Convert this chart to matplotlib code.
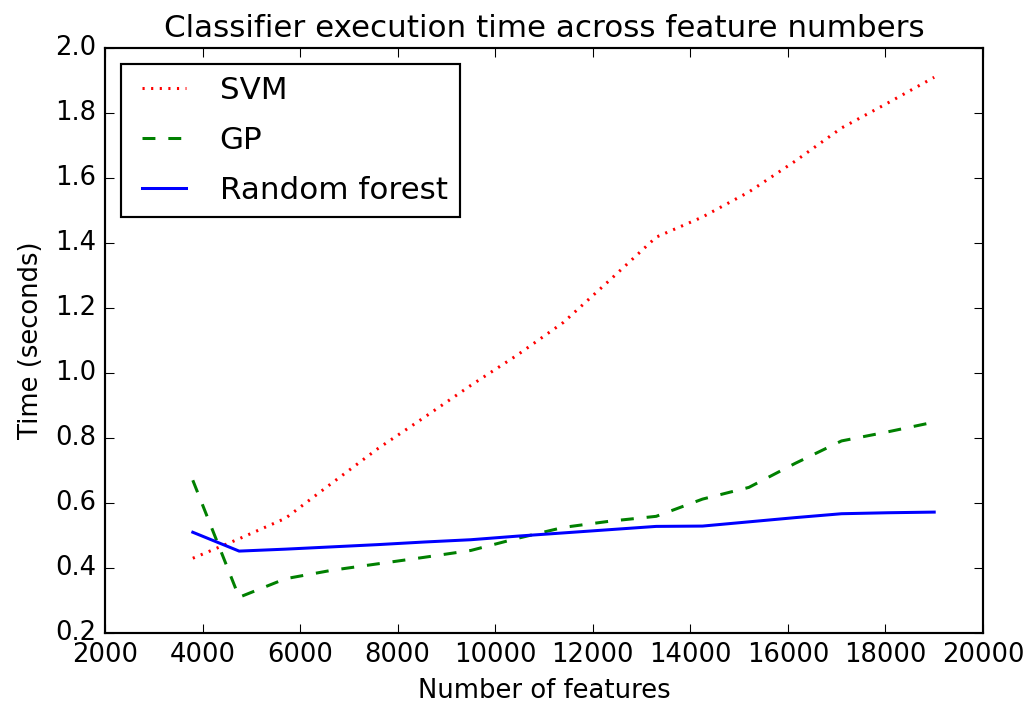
import numpy as np
import matplotlib
matplotlib.use('Agg')
import matplotlib.pyplot as plt

plt.style.use('classic')

# number of features used for each run
n_features = [3800, 4750, 5700, 6650, 7600, 8550, 9500, 10450, 11400,
              12350, 13300, 14250, 15200, 16150, 17100, 18050, 19000]

# execution time (seconds) per classifier
svm_time = [0.43, 0.49, 0.553, 0.661, 0.768, 0.864, 0.962, 1.055, 1.156,
            1.286, 1.418, 1.48, 1.557, 1.652, 1.754, 1.831, 1.91]
gp_time = [0.67, 0.31, 0.367, 0.393, 0.413, 0.433, 0.454, 0.491, 0.525,
           0.544, 0.559, 0.612, 0.648, 0.722, 0.791, 0.819, 0.849]
rf_time = [0.51, 0.452, 0.458, 0.465, 0.472, 0.480, 0.487, 0.498, 0.508,
           0.518, 0.528, 0.529, 0.542, 0.555, 0.567, 0.570, 0.572]

fig = plt.figure(figsize=(1032 / 155, 714 / 155), dpi=155, facecolor='white')
ax = fig.add_axes([105 / 1032, 1 - 633 / 714, 878 / 1032, 585 / 714])

ax.plot(n_features, svm_time, 'r:', lw=1.4, label='SVM')
ax.plot(n_features, gp_time, 'g--', lw=1.4, label='GP')
ax.plot(n_features, rf_time, 'b-', lw=1.4, label='Random forest')

ax.set_xlim(2000, 20000)
ax.set_ylim(0.2, 2.0)
ax.set_xticks(np.arange(2000, 20001, 2000))
ax.set_yticks(np.arange(0.2, 2.01, 0.2))
ax.set_xlabel('Number of features')
ax.set_ylabel('Time (seconds)')
ax.set_title('Classifier execution time across feature numbers')
ax.legend(loc='upper left', labelspacing=0.68)

fig.savefig('out.png', dpi=155, facecolor='white')
